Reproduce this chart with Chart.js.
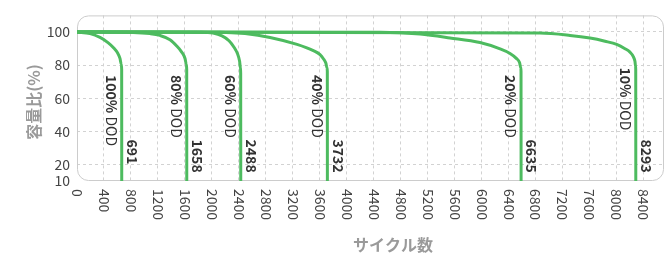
<!DOCTYPE html>
<html>
<head>
<meta charset="utf-8">
<script src="https://cdn.jsdelivr.net/npm/chart.js@4.4.0/dist/chart.umd.min.js"></script>
<style>
  body { margin: 0; background: #fff; }
  #wrap { width: 666px; height: 260px; }
</style>
</head>
<body>
<div id="wrap"><canvas id="cycleChart"></canvas></div>
<script>
// depth of discharge labels and the cycle life printed next to each drop
const dodLabels = ["100%", "80%", "60%", "40%", "20%", "10%"];
const cycleLifeLabels = ["691", "1658", "2488", "3732", "6635", "8293"];

// curves (cycles / capacity %)
const dod100Cycles = [0, 193, 341, 459, 541, 600, 637, 655, 662, 663];
const dod100Capacity = [100, 99.0, 96.7, 93.6, 90.5, 87.4, 84.0, 80.6, 77.3, 10];
const dod80Cycles = [0, 830, 1082, 1230, 1378, 1478, 1549, 1601, 1619, 1626, 1627];
const dod80Capacity = [100, 99.7, 99.0, 97.9, 95.3, 91.5, 88.0, 84.0, 80.6, 77.3, 10];
const dod60Cycles = [0, 1823, 2016, 2149, 2253, 2327, 2379, 2410, 2422, 2426, 2427];
const dod60Capacity = [100, 99.8, 99.3, 97.6, 94.7, 90.8, 86.8, 82.3, 78.4, 75.0, 10];
const dod40Cycles = [0, 2119, 2490, 2861, 3261, 3503, 3602, 3654, 3688, 3705, 3710, 3711];
const dod40Capacity = [100, 99.9, 99.0, 96.7, 92.5, 88.7, 86.3, 83.7, 81.2, 78.4, 76.1, 10];
const dod20Cycles = [0, 4491, 5084, 5528, 5973, 6270, 6418, 6507, 6559, 6577, 6581, 6582];
const dod20Capacity = [100, 99.8, 98.7, 96.4, 93.6, 89.8, 87.0, 84.2, 81.5, 78.4, 76.1, 10];
const dod10Cycles = [0, 6862, 7307, 7603, 7826, 7999, 8122, 8196, 8245, 8270, 8278, 8281, 8282];
const dod10Capacity = [100, 99.3, 97.9, 96.3, 94.4, 92.5, 89.9, 87.8, 85.1, 82.1, 79.5, 77.2, 10];

const cycleTicks = [0, 400, 800, 1200, 1600, 2000, 2400, 2800, 3200, 3600, 4000,
  4400, 4800, 5200, 5600, 6000, 6400, 6800, 7200, 7600, 8000, 8400];
const capacityTicks = [10, 20, 40, 60, 80, 100];

const FONT = '"Noto Sans CJK JP", "Noto Sans", sans-serif';
const LINE = "#4dbb5f";

const series = [
  [dod100Cycles, dod100Capacity],
  [dod80Cycles, dod80Capacity],
  [dod60Cycles, dod60Capacity],
  [dod40Cycles, dod40Capacity],
  [dod20Cycles, dod20Capacity],
  [dod10Cycles, dod10Capacity],
];

const drawRotated = (ctx, x, y, parts) => {
  ctx.save();
  ctx.translate(x, y);
  ctx.rotate(Math.PI / 2);
  ctx.textAlign = "left";
  ctx.textBaseline = "middle";
  let off = 0;
  parts.forEach(([text, font]) => {
    ctx.font = font;
    ctx.fillText(text, off, 0);
    off += ctx.measureText(text).width;
  });
  ctx.restore();
};

const decorPlugin = {
  id: "decor",
  beforeDatasetsDraw(chart) {
    const { ctx, chartArea: a } = chart;
    ctx.save();
    ctx.strokeStyle = "#cccccc";
    ctx.lineWidth = 1;
    ctx.beginPath();
    ctx.roundRect(a.left + 0.5, a.top + 0.5, a.right - a.left - 1, a.bottom - a.top - 1, 11);
    ctx.stroke();
    ctx.restore();
  },
  afterDraw(chart) {
    const { ctx } = chart;
    const xs = chart.scales.x, ys = chart.scales.y;

    // x tick labels, turned clockwise
    ctx.fillStyle = "#444";
    cycleTicks.forEach(v => {
      drawRotated(ctx, xs.getPixelForValue(v), ys.bottom + 8, [[String(v), "14px " + FONT]]);
    });

    // DOD captions and cycle counts by each drop
    ctx.fillStyle = "#333";
    series.forEach(([cx], i) => {
      const px = xs.getPixelForValue(cx[cx.length - 1]);
      const top = ys.getPixelForValue(i === series.length - 1 ? 78.5 : 74);
      drawRotated(ctx, px - 10.5, top, [[dodLabels[i], "bold 14px " + FONT], [" DOD", "14px " + FONT]]);
      drawRotated(ctx, px + 10.5, ys.getPixelForValue(35), [[cycleLifeLabels[i], "bold 14px " + FONT]]);
    });

    // axis titles
    ctx.save();
    ctx.fillStyle = "#9a9a9a";
    ctx.font = "bold 16px " + FONT;
    ctx.textAlign = "center";
    ctx.textBaseline = "middle";
    ctx.fillText("サイクル数", 393, 245);
    ctx.translate(34, 102);
    ctx.rotate(-Math.PI / 2);
    ctx.fillText("容量比(%)", 0, 0);
    ctx.restore();
  }
};

new Chart(document.getElementById("cycleChart").getContext("2d"), {
  type: "line",
  data: {
    datasets: series.map(([cx, cy], i) => ({
      label: dodLabels[i] + " DOD",
      data: cx.map((c, j) => ({ x: c, y: cy[j] })),
      borderColor: LINE,
      borderWidth: 3,
      pointRadius: 0,
      fill: false,
      cubicInterpolationMode: "monotone",
    }))
  },
  options: {
    responsive: true,
    maintainAspectRatio: false,
    animation: false,
    layout: { padding: { top: 4, right: 2, left: 0, bottom: 0 } },
    plugins: { legend: { display: false }, tooltip: { enabled: false } },
    scales: {
      x: {
        type: "linear",
        min: 0,
        max: 8700,
        afterBuildTicks: (scale) => { scale.ticks = cycleTicks.map(v => ({ value: v })); },
        afterFit: (scale) => { scale.height = 79; },
        ticks: { display: false },
        grid: {
          drawTicks: false,
          color: (c) => (c.tick && c.tick.value === 0 ? "transparent" : "#d2d2d2"),
        },
        border: { display: false, dash: [3, 3] },
      },
      y: {
        min: 10,
        max: 110,
        afterBuildTicks: (scale) => { scale.ticks = capacityTicks.map(v => ({ value: v })); },
        afterFit: (scale) => { scale.width = 77; },
        ticks: {
          autoSkip: false,
          padding: 7,
          color: "#444",
          font: { family: FONT, size: 14 },
        },
        grid: {
          drawTicks: false,
          color: (c) => (c.tick && c.tick.value === 10 ? "transparent" : "#d2d2d2"),
        },
        border: { display: false, dash: [3, 3] },
      }
    }
  },
  plugins: [decorPlugin]
});
</script>
</body>
</html>
